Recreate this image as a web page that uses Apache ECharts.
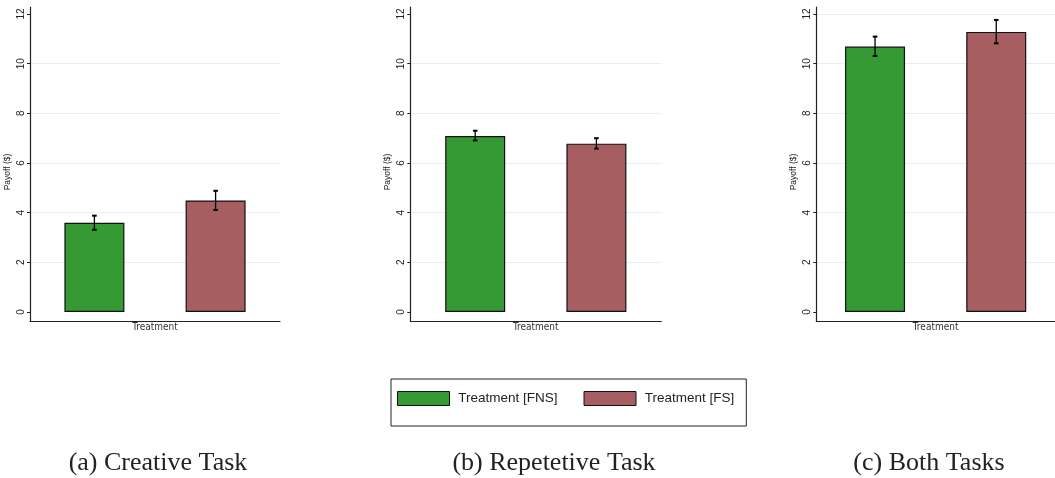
<!DOCTYPE html>
<html>
<head>
<meta charset="utf-8">
<script src="https://cdn.jsdelivr.net/npm/echarts@6/dist/echarts.min.js"></script>
<style>
  html, body { margin: 0; padding: 0; background: #fff; }
  #chart { width: 1055px; height: 478px; }
</style>
</head>
<body>
<div id="chart"></div>
<script>
// ---- data ----
const CATEGORIES = ['Treatment'];
const SERIES_NAMES = ['Treatment [FNS]', 'Treatment [FS]'];
const PANEL_TITLES = ['(a) Creative Task', '(b) Repetetive Task', '(c) Both Tasks'];
const FNS_MEAN = [3.59, 7.09, 10.69];
const FNS_LO   = [3.31, 6.91, 10.31];
const FNS_HI   = [3.88, 7.30, 11.09];
const FS_MEAN  = [4.49, 6.78, 11.28];
const FS_LO    = [4.11, 6.58, 10.82];
const FS_HI    = [4.88, 7.00, 11.76];
const Y_MIN = 0, Y_MAX = 12, Y_STEP = 2;

// ---- layout / style ----
const PANEL_LEFT = [30, 410.3, 816.3];
const PANEL_WIDTH = [250, 251, 251];
const CAPTION_X = [158, 554, 929];
const BAR_W = 60, BAR_GAP = 1.02;
const GREEN = '#359a34', RED = '#a65e61';
const AXIS_COLOR = '#222';
const GRID_COLOR = '#e8eeee';
const NARROW = "'Liberation Sans Narrow', 'DejaVu Sans Condensed', 'Liberation Sans', sans-serif";

const chart = echarts.init(document.getElementById('chart'), null, { renderer: 'canvas' });

const grid = [], xAxis = [], yAxis = [], series = [], title = [];

function errorRenderer(sign) {
  return function (params, api) {
    const pLo = api.coord([api.value(0), api.value(1)]);
    const pHi = api.coord([api.value(0), api.value(2)]);
    const off = sign * BAR_W * (1 + BAR_GAP) / 2;
    const x = pLo[0] + off;
    const cap = 2.3;
    const s = { stroke: '#000', lineWidth: 1.3 };
    const c = { stroke: '#000', lineWidth: 2 };
    return {
      type: 'group',
      children: [
        { type: 'line', shape: { x1: x, y1: pLo[1], x2: x, y2: pHi[1] }, style: s },
        { type: 'line', shape: { x1: x - cap, y1: pLo[1], x2: x + cap, y2: pLo[1] }, style: c },
        { type: 'line', shape: { x1: x - cap, y1: pHi[1], x2: x + cap, y2: pHi[1] }, style: c }
      ]
    };
  };
}

for (let i = 0; i < 3; i++) {
  const a = 2 * i, b = 2 * i + 1;
  // data grid (0..12)
  grid.push({ left: PANEL_LEFT[i], width: PANEL_WIDTH[i], top: 14, height: 298, containLabel: false });
  // frame grid (axis lines extend a little beyond the value range)
  grid.push({ left: PANEL_LEFT[i], width: PANEL_WIDTH[i], top: 7, height: 314, containLabel: false });

  xAxis.push({ type: 'category', gridIndex: a, data: CATEGORIES, show: false });
  xAxis.push({
    type: 'category', gridIndex: b, data: CATEGORIES,
    axisLine: { show: true, lineStyle: { color: AXIS_COLOR, width: 1.2 } },
    axisTick: { show: false },
    axisLabel: { margin: 1, fontSize: 10, color: '#333', fontFamily: NARROW }
  });

  yAxis.push({
    type: 'value', gridIndex: a, min: Y_MIN, max: Y_MAX, interval: Y_STEP,
    axisLine: { show: false },
    axisTick: { show: true, length: 3, lineStyle: { color: AXIS_COLOR, width: 1 } },
    axisLabel: { rotate: 90, fontSize: 10, margin: 4, color: '#222', fontFamily: 'Liberation Sans' },
    splitLine: { show: true, showMinLine: false, showMaxLine: i === 2, lineStyle: { color: GRID_COLOR, width: 1 } }
  });
  yAxis.push({
    type: 'value', gridIndex: b, min: 0, max: 1,
    axisLine: { show: true, lineStyle: { color: AXIS_COLOR, width: 1.2 } },
    axisTick: { show: false }, axisLabel: { show: false }, splitLine: { show: false },
    name: 'Payoff ($)', nameLocation: 'middle', nameGap: 17.7,
    nameTextStyle: { fontSize: 8.5, color: '#222', fontFamily: 'Liberation Sans', padding: [0, 16, 0, 0] }
  });

  series.push({
    type: 'bar', name: SERIES_NAMES[0], xAxisIndex: a, yAxisIndex: a,
    data: [FNS_MEAN[i]], barWidth: BAR_W, barGap: (BAR_GAP * 100) + '%',
    itemStyle: { color: GREEN, borderColor: '#111', borderWidth: 1.2 }
  });
  series.push({
    type: 'bar', name: SERIES_NAMES[1], xAxisIndex: a, yAxisIndex: a,
    data: [FS_MEAN[i]], barWidth: BAR_W, barGap: (BAR_GAP * 100) + '%',
    itemStyle: { color: RED, borderColor: '#111', borderWidth: 1.2 }
  });
  series.push({
    type: 'custom', xAxisIndex: a, yAxisIndex: a, z: 5,
    renderItem: errorRenderer(-1), data: [[0, FNS_LO[i], FNS_HI[i]]]
  });
  series.push({
    type: 'custom', xAxisIndex: a, yAxisIndex: a, z: 5,
    renderItem: errorRenderer(1), data: [[0, FS_LO[i], FS_HI[i]]]
  });

  title.push({
    text: PANEL_TITLES[i], left: CAPTION_X[i], top: 450, textAlign: 'center', padding: 0,
    textStyle: { fontFamily: "'Liberation Serif', serif", fontWeight: 'normal', fontSize: 26, color: '#222' }
  });
}

chart.setOption({
  animation: false,
  backgroundColor: '#fff',
  title: title,
  grid: grid,
  xAxis: xAxis,
  yAxis: yAxis,
  legend: {
    data: SERIES_NAMES,
    left: 391, top: 379,
    padding: [12, 12, 20, 6],
    itemWidth: 52, itemHeight: 14, itemGap: 26,
    icon: 'rect',
    borderColor: '#222', borderWidth: 1,
    formatter: function (n) { return ' ' + n; },
    textStyle: { fontSize: 13.5, color: '#222', fontFamily: 'Liberation Sans' },
    itemStyle: { borderColor: '#111', borderWidth: 1 }
  },
  series: series
});
</script>
</body>
</html>
